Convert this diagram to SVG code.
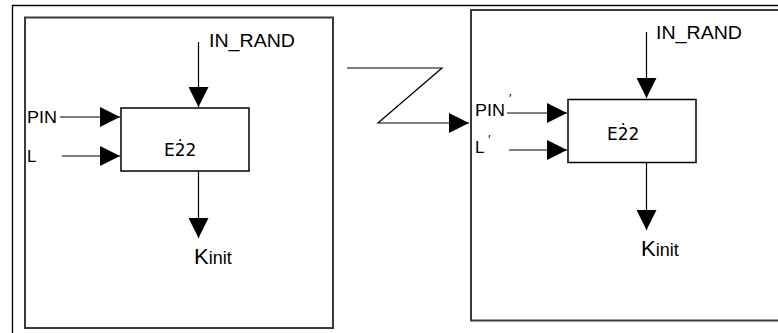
<svg xmlns="http://www.w3.org/2000/svg" width="778" height="333" viewBox="0 0 778 333">
<style>
.frame{fill:none;stroke:#000;stroke-width:1.3}
.panel{fill:none;stroke:#3a3a3a;stroke-width:2}
.blk{fill:#fff;stroke:#000;stroke-width:1.5}
.wire{fill:none;stroke:#000;stroke-width:1.2}
.t{font-family:"Liberation Sans",Arial,sans-serif;fill:#000}
.e{font-family:"DejaVu Sans",sans-serif;font-size:17px;fill:#000}
</style>
<defs>
<marker id="ah" markerUnits="userSpaceOnUse" markerWidth="20" markerHeight="20" refX="20" refY="10" orient="auto" viewBox="0 0 20 20">
<path d="M0,0 L20,10 L0,20 z" fill="#000"/>
</marker>
</defs>
<rect width="778" height="333" fill="#fff"/>
<path class="frame" d="M12.5,340 V5.5 H790"/>
<g id="panel-left">
<rect class="panel" x="25" y="17.5" width="308" height="310.5"/>
</g>
<g id="panel-right">
<rect class="panel" x="471" y="10" width="330" height="310.5"/>
</g>
<g id="block-left">
<rect class="blk" x="121" y="108" width="128" height="63"/>
<text class="e" x="164" y="156">E2̇2</text>
</g>
<g id="block-right">
<rect class="blk" x="568" y="99.5" width="128" height="63"/>
<text class="e" x="607" y="140">E2̇2</text>
</g>
<g id="labels">
<text class="t" x="209" y="46.5" font-size="18" textLength="86" lengthAdjust="spacingAndGlyphs">IN_RAND</text>
<text class="t" x="27" y="123" font-size="17" textLength="30" lengthAdjust="spacingAndGlyphs">PIN</text>
<text class="t" x="27" y="162" font-size="17">L</text>
<text class="t" x="194" y="264" font-size="22">K<tspan font-size="18">init</tspan></text>
<text class="t" x="656" y="38.5" font-size="18" textLength="86" lengthAdjust="spacingAndGlyphs">IN_RAND</text>
<text class="t" x="475" y="116" font-size="17" textLength="30" lengthAdjust="spacingAndGlyphs">PIN</text>
<text class="t" x="509" y="103" font-size="13">′</text>
<text class="t" x="475" y="153" font-size="17">L</text>
<text class="t" x="488" y="144" font-size="13">′</text>
<text class="t" x="641" y="256" font-size="22">K<tspan font-size="18">init</tspan></text>
</g>
<g id="connectors">
<path class="wire" d="M198.5,42 V107" marker-end="url(#ah)"/>
<path class="wire" d="M60,117 H120" marker-end="url(#ah)"/>
<path class="wire" d="M62,156 H120" marker-end="url(#ah)"/>
<path class="wire" d="M198.5,171 V238" marker-end="url(#ah)"/>
<path class="wire" d="M347,68 H442 L378,123 H469" marker-end="url(#ah)"/>
<path class="wire" d="M646.5,32 V98" marker-end="url(#ah)"/>
<path class="wire" d="M507,113 H567" marker-end="url(#ah)"/>
<path class="wire" d="M509,150 H567" marker-end="url(#ah)"/>
<path class="wire" d="M646.5,163 V230" marker-end="url(#ah)"/>
</g>
</svg>
